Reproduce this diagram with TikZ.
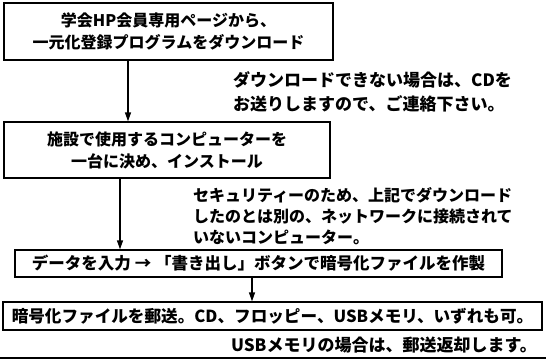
\documentclass[tikz,border=0pt]{standalone}
\usepackage{fontspec}
\setmainfont{Noto Sans CJK JP}
\usetikzlibrary{arrows.meta}
\tikzset{
  stepbox/.style={draw=black, line width=1.3pt, inner sep=0pt, align=center,
    font=\bfseries\fontsize{16}{22}\selectfont},
  notetext/.style={inner sep=0pt, align=left, font=\bfseries\fontsize{17}{24}\selectfont},
  arr/.style={line width=1.3pt, -{Triangle[width=6pt,length=9pt]}}
}
\begin{document}
\begin{tikzpicture}[x=1pt,y=-1pt]
\useasboundingbox (0,0) rectangle (546,361);
\node[stepbox, minimum width=329pt, minimum height=57pt] (b1) at (168.5,31.5)
  {学会HP会員専用ページから、\\一元化登録プログラムをダウンロード};
\node[stepbox, minimum width=326pt, minimum height=56pt] (b2) at (167,150)
  {施設で使用するコンピューターを\\一台に決め、インストール};
\node[stepbox, minimum width=487pt, minimum height=27pt, font=\bfseries\fontsize{16.5}{22}\selectfont] (b3) at (258.5,263.5)
  {データを入力 → 「書き出し」ボタンで暗号化ファイルを作製};
\node[stepbox, minimum width=539pt, minimum height=28pt, font=\bfseries\fontsize{16.6}{22}\selectfont] (b4) at (272.5,316)
  {暗号化ファイルを郵送。CD、フロッピー、USBメモリ、いずれも可。};
\node[notetext, anchor=west] (n1) at (233,92)
  {ダウンロードできない場合は、CDを\\お送りしますので、ご連絡下さい。};
\node[notetext, anchor=west, font=\bfseries\fontsize{16}{21}\selectfont] (n2) at (193,216)
  {セキュリティーのため、上記でダウンロード\\したのとは別の、ネットワークに接続されて\\いないコンピューター。};
\node[notetext, anchor=east] (n3) at (537,345)
  {USBメモリの場合は、郵送返却します。};
\coordinate (a1) at (128,0);
\coordinate (a2) at (120,0);
\coordinate (a3) at (252,0);
\draw[arr] (b1.south -| a1) -- (b2.north -| a1);
\draw[arr] (b2.south -| a2) -- (b3.north -| a2);
\draw[arr] (b3.south -| a3) -- (b4.north -| a3);
\coordinate (l1) at (0,358);
\coordinate (l2) at (546,358);
\draw[line width=2.5pt] (l1) -- (l2);
\end{tikzpicture}
\end{document}
